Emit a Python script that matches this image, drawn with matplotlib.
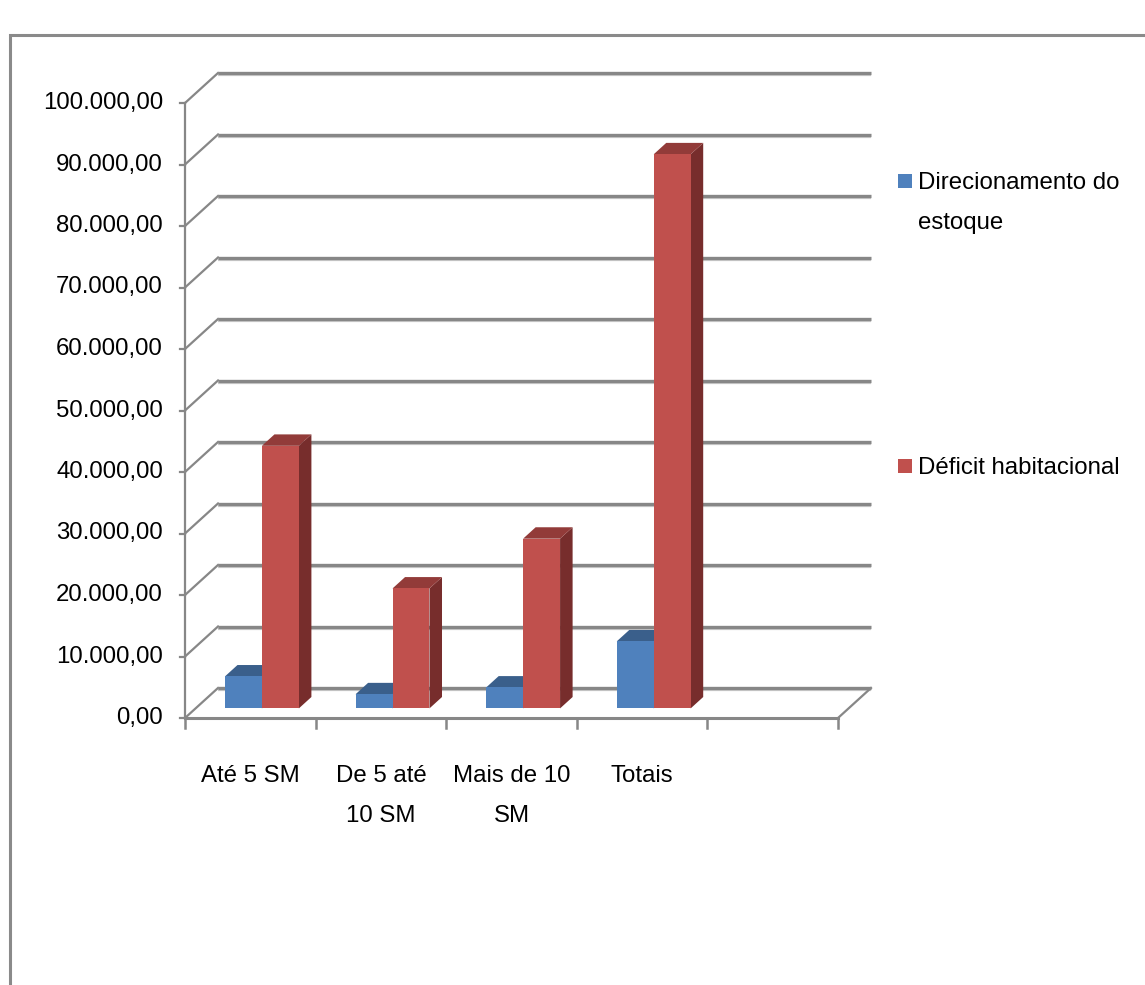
import matplotlib
matplotlib.use("Agg")
import matplotlib.pyplot as plt
from matplotlib.patches import Polygon, Rectangle
import numpy as np

# ---- data ----
categories = ["Até 5 SM", "De 5 até\n10 SM", "Mais de 10\nSM", "Totais", ""]
series_names = ["Direcionamento do\nestoque", "Déficit habitacional"]
direcionamento = [5200, 2300, 3400, 10900]
deficit = [42700, 19500, 27600, 90100]
y_ticks = list(range(0, 100001, 10000))
y_tick_labels = ["0,00", "10.000,00", "20.000,00", "30.000,00", "40.000,00",
                 "50.000,00", "60.000,00", "70.000,00", "80.000,00",
                 "90.000,00", "100.000,00"]

FONT = ["Liberation Sans", "DejaVu Sans"]
plt.rcParams["font.family"] = FONT
FS = 17.3
LS = 2.06

W, H = 1145, 985
fig = plt.figure(figsize=(W / 100, H / 100), dpi=100)
fig.patch.set_facecolor("white")

# front plane of the 3D box in pixels
x0p, x1p = 185, 838
y0p, y1p = 718, 103
ax = fig.add_axes([x0p / W, 1 - y0p / H, (x1p - x0p) / W, (y0p - y1p) / H])
ax.set_xlim(0, 5)
ax.set_ylim(0, 100000)
ax.axis("off")

px_x = 5 / (x1p - x0p)          # category units per pixel
px_y = 100000 / (y0p - y1p)     # value units per pixel
DX = 33 * px_x                  # depth offset
DY = 30 * px_y

grid_c = "#878787"
light_c = "#cfcfcf"

# back wall gridlines and left-wall diagonals
for v in y_ticks:
    ax.plot([DX, 5 + DX], [v + DY - 2.2 * px_y, v + DY - 2.2 * px_y], color=light_c,
            lw=1.6, clip_on=False, zorder=1, solid_capstyle="butt")
    ax.plot([DX, 5 + DX], [v + DY, v + DY], color=grid_c, lw=2.4,
            clip_on=False, zorder=2, solid_capstyle="butt")
    ax.plot([0, DX], [v, v + DY], color=grid_c, lw=1.6, clip_on=False, zorder=2)

# floor front edge and right edge
ax.plot([0, 5], [0, 0], color=grid_c, lw=2.2, clip_on=False, zorder=2)
ax.plot([5, 5 + DX], [0, DY], color=grid_c, lw=1.6, clip_on=False, zorder=2)
# y axis line
ax.plot([0, 0], [0, 100000], color=grid_c, lw=1.6, clip_on=False, zorder=2)
# y ticks
for v, lab in zip(y_ticks, y_tick_labels):
    ax.plot([-5 * px_x, 0], [v, v], color=grid_c, lw=1.6, clip_on=False, zorder=2)
    ax.text(-22 * px_x, v, lab, ha="right", va="center", fontsize=FS,
            family=FONT, color="#000000")
# x ticks
for i in range(6):
    ax.plot([i, i], [0, -10 * px_y], color=grid_c, lw=1.8, clip_on=False, zorder=2)
# category labels
for i, lab in enumerate(categories):
    if lab:
        ax.text(i + 0.5, -47 * px_y, lab, ha="center", va="top", fontsize=FS,
                family=FONT, linespacing=LS, color="#000000")

# bars
d0, dd = 0.32, 0.38
bw = 0.283
gap = 0.225
front_cols = ["#4F81BD", "#C0504D"]
top_cols = ["#3A5F8B", "#923B39"]
side_cols = ["#2F4D70", "#772D2C"]
series = [direcionamento, deficit]
base = d0 * DY
for j, vals in enumerate(series):
    xs = np.arange(len(vals)) + gap + j * bw + d0 * DX
    ax.bar(xs, vals, width=bw, bottom=base, align="edge", color=front_cols[j],
           edgecolor="none", zorder=5 + j * 2, label=series_names[j])
    for xl, v in zip(xs, vals):
        xr = xl + bw
        yt = base + v
        top = Polygon([(xl, yt), (xr, yt), (xr + dd * DX, yt + dd * DY),
                       (xl + dd * DX, yt + dd * DY)], closed=True,
                      facecolor=top_cols[j], edgecolor="none", zorder=4 + j * 2)
        side = Polygon([(xr, base), (xr, yt), (xr + dd * DX, yt + dd * DY),
                        (xr + dd * DX, base + dd * DY)], closed=True,
                       facecolor=side_cols[j], edgecolor="none", zorder=4 + j * 2)
        ax.add_patch(side)
        ax.add_patch(top)

# legend (manual placement)
leg_items = [(181, front_cols[0], series_names[0]), (466, front_cols[1], series_names[1])]
for yc, col, name in leg_items:
    sq = 14
    fig.patches.append(Rectangle((898 / W, 1 - (yc + sq / 2) / H), sq / W, sq / H,
                                 transform=fig.transFigure, facecolor=col,
                                 edgecolor="none"))
    fig.text(918 / W, 1 - (yc - 9) / H, name, ha="left", va="top", fontsize=FS,
             family=FONT, linespacing=LS, color="#000000")

# outer chart border (extends beyond the image)
fig.patches.append(Rectangle((10 / W, 1 - 1010 / H), 1160 / W, (1010 - 35) / H,
                             transform=fig.transFigure, facecolor="none",
                             edgecolor="#8a8a8a", lw=2.2, clip_on=False))

fig.savefig("out.png", dpi=100, facecolor="white")
